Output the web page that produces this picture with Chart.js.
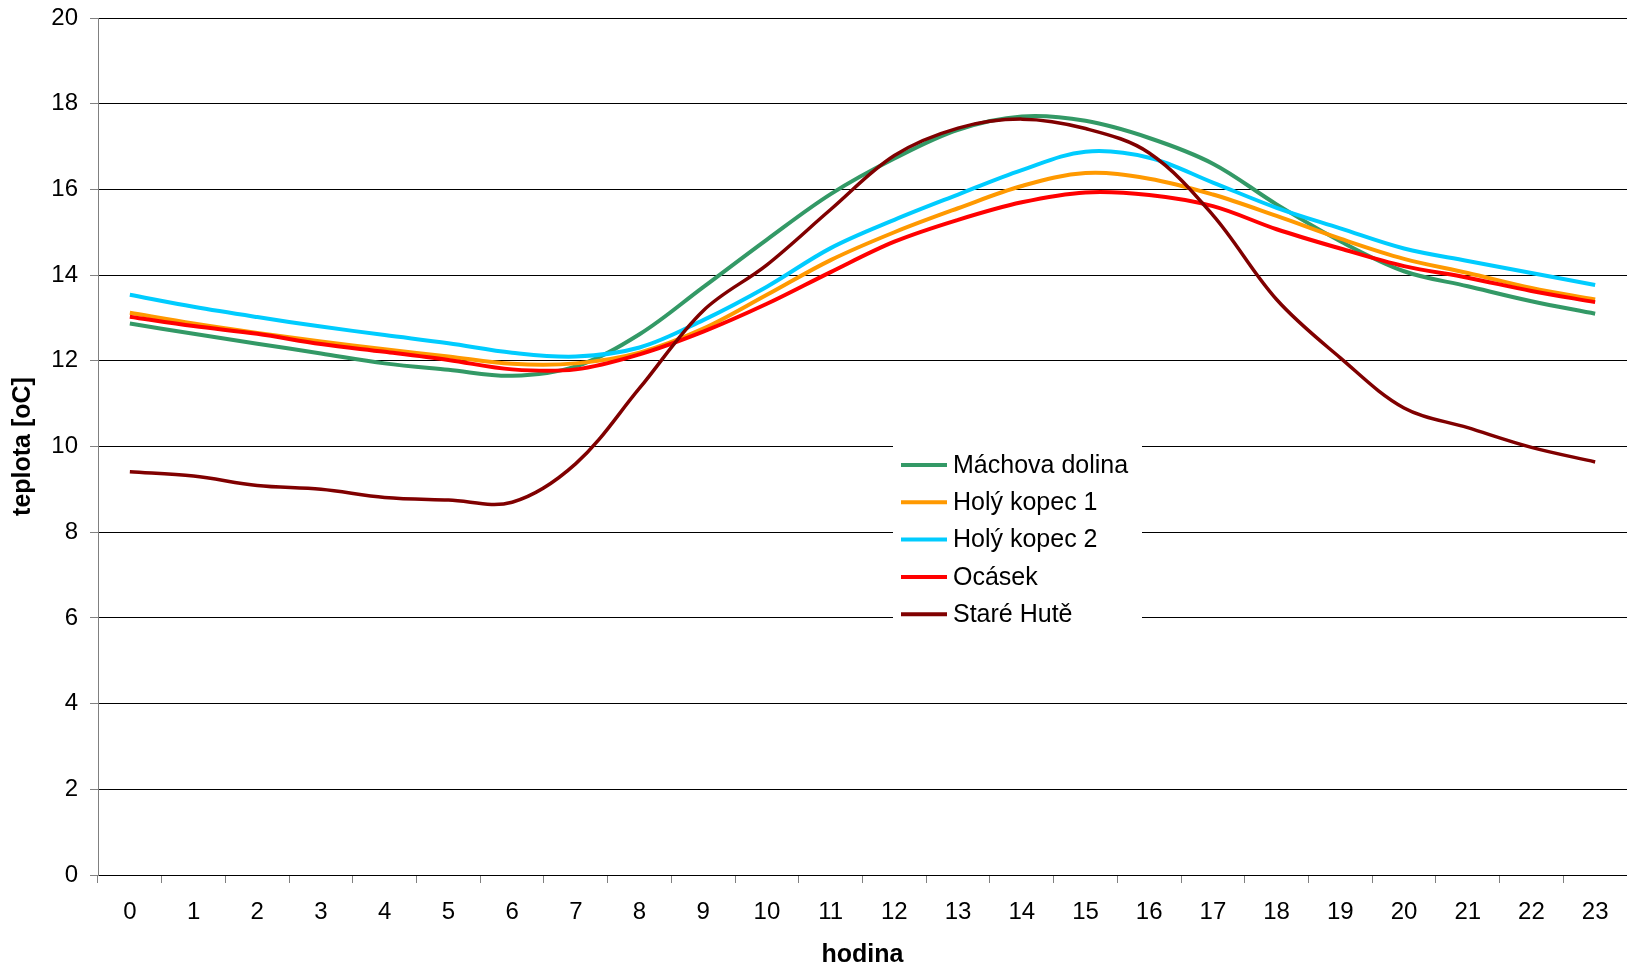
<!DOCTYPE html>
<html lang="cs">
<head>
<meta charset="utf-8">
<title>teplota - hodina</title>
<script src="https://cdn.jsdelivr.net/npm/chart.js@4.4.0/dist/chart.umd.min.js"></script>
<style>
    html, body { margin: 0; padding: 0; background: #ffffff; }
    #wrap { position: relative; width: 1627px; height: 969px; }
</style>
</head>
<body>
<div id="wrap"><canvas id="teplotaChart"></canvas></div>
<script>
// hodiny dne (osa x)
const hodiny = ['0', '1', '2', '3', '4', '5', '6', '7', '8', '9', '10', '11',
                '12', '13', '14', '15', '16', '17', '18', '19', '20', '21', '22', '23'];

// průměrné teploty [oC] podle lokality
const machovaDolina = [12.87, 12.63, 12.40, 12.17, 11.94, 11.79, 11.65, 11.87, 12.62, 13.72, 14.83, 15.89,
                       16.72, 17.39, 17.70, 17.60, 17.20, 16.60, 15.65, 14.79, 14.09, 13.74, 13.39, 13.10];
const holyKopec1 = [13.12, 12.87, 12.65, 12.45, 12.27, 12.10, 11.93, 11.94, 12.19, 12.75, 13.54, 14.35,
                    15.00, 15.56, 16.08, 16.38, 16.25, 15.88, 15.38, 14.85, 14.38, 14.05, 13.70, 13.43];
const holyKopec2 = [13.54, 13.26, 13.02, 12.80, 12.60, 12.41, 12.19, 12.10, 12.31, 12.95, 13.73, 14.63,
                    15.29, 15.88, 16.45, 16.88, 16.74, 16.16, 15.57, 15.09, 14.62, 14.33, 14.05, 13.77];
const ocasek = [13.03, 12.81, 12.63, 12.39, 12.21, 12.02, 11.80, 11.80, 12.15, 12.68, 13.33, 14.07,
                14.78, 15.29, 15.70, 15.93, 15.87, 15.61, 15.07, 14.62, 14.21, 13.94, 13.63, 13.37];
const stareHute = [9.41, 9.31, 9.09, 9.00, 8.81, 8.75, 8.70, 9.60, 11.36, 13.17, 14.24, 15.53,
                   16.79, 17.43, 17.64, 17.42, 16.85, 15.40, 13.43, 12.07, 10.90, 10.44, 9.98, 9.64];

const nazvy = ['Máchova dolina', 'Holý kopec 1', 'Holý kopec 2', 'Ocásek', 'Staré Hutě'];
const barvy = ['#339966', '#ff9900', '#00ccff', '#ff0000', '#800000'];
const rady = [machovaDolina, holyKopec1, holyKopec2, ocasek, stareHute];

const PISMO = '"Liberation Sans", Arial, sans-serif';

// legenda uvnitř grafu (bílý rámeček přes mřížku)
const legendaVGrafu = {
    id: 'legendaVGrafu',
    beforeDatasetsDraw(chart) {
        const ctx = chart.ctx;
        const area = chart.chartArea;
        const x0 = area.left + 795;
        const y0 = area.top + 410;
        ctx.save();
        ctx.fillStyle = '#ffffff';
        ctx.fillRect(x0, y0, 249, 210);
        ctx.font = '25px ' + PISMO;
        ctx.textBaseline = 'middle';
        ctx.textAlign = 'left';
        chart.data.datasets.forEach((ds, i) => {
            const y = y0 + 37 + i * 37.3;
            ctx.strokeStyle = ds.borderColor;
            ctx.lineWidth = 4;
            ctx.beginPath();
            ctx.moveTo(x0 + 8, y);
            ctx.lineTo(x0 + 54, y);
            ctx.stroke();
            ctx.fillStyle = '#000000';
            ctx.fillText(ds.label, x0 + 60, y + 1);
        });
        ctx.restore();
    }
};

const ctx = document.getElementById('teplotaChart').getContext('2d');

new Chart(ctx, {
    type: 'line',
    data: {
        labels: hodiny,
        datasets: rady.map((data, i) => ({
            label: nazvy[i],
            data: data,
            borderColor: barvy[i],
            backgroundColor: barvy[i],
            borderWidth: i === 4 ? 3.5 : 4,
            tension: 0.35,
            pointRadius: 0,
            fill: false,
            order: 4 - i // poslední řada navrchu jako v Excelu
        }))
    },
    options: {
        responsive: true,
        maintainAspectRatio: false,
        animation: false,
        layout: {
            padding: { top: 18, right: 0, bottom: 0, left: 0 }
        },
        plugins: {
            legend: { display: false },
            tooltip: { enabled: false }
        },
        scales: {
            x: {
                offset: true,
                grid: {
                    offset: true,
                    drawOnChartArea: false,
                    drawTicks: true,
                    tickLength: 8,
                    color: '#808080'
                },
                border: { color: '#000000', width: 1 },
                ticks: {
                    color: '#000000',
                    font: { family: PISMO, size: 24 },
                    padding: 15,
                    autoSkip: false,
                    maxRotation: 0
                },
                title: {
                    display: true,
                    text: 'hodina',
                    color: '#000000',
                    font: { family: PISMO, size: 25, weight: 'bold', lineHeight: 1.1 },
                    padding: { top: 0, bottom: 0 }
                },
                afterFit(scale) {
                    scale.height = 94;
                }
            },
            y: {
                min: 0,
                max: 20,
                grid: {
                    color: '#000000',
                    tickColor: '#808080',
                    tickLength: 8
                },
                border: { color: '#808080', width: 1 },
                ticks: {
                    stepSize: 2,
                    color: '#000000',
                    font: { family: PISMO, size: 24 },
                    padding: 12
                },
                title: {
                    display: true,
                    text: 'teplota [oC]',
                    color: '#000000',
                    font: { family: PISMO, size: 25, weight: 'bold' },
                    padding: { top: 8, bottom: 0 }
                },
                afterFit(scale) {
                    scale.width = 98;
                    scale.paddingTop = 0;
                    scale.paddingBottom = 0;
                }
            }
        }
    },
    plugins: [legendaVGrafu]
});
</script>
</body>
</html>
